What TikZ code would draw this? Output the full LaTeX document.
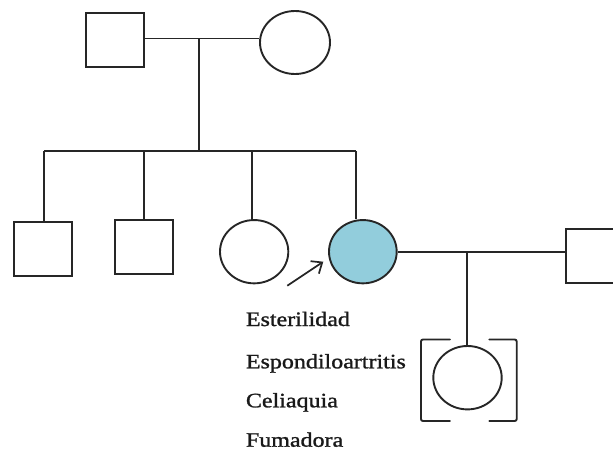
\documentclass[tikz,border=0pt]{standalone}
\usepackage{fontspec}
\usetikzlibrary{shapes.geometric,arrows.meta}
\newfontfamily\lblfont[FakeStretch=1.17,FakeBold=1.2]{Liberation Serif}
\definecolor{probandblue}{HTML}{92CDDC}
\definecolor{pedline}{HTML}{262626}
\begin{document}
\begin{tikzpicture}[x=1pt,y=-1pt,
  line width=1.9pt,
  draw=pedline,
  male/.style={draw=pedline,rectangle,inner sep=0pt,minimum width=#1},
  male/.default=57.7pt,
  female/.style={draw=pedline,ellipse,inner sep=0pt,minimum width=68.3pt,minimum height=63.3pt},
  trait/.style={anchor=base west,inner sep=0pt,font=\lblfont\fontsize{20.5}{24}\selectfont,text=black!90}]
\useasboundingbox (0,0) rectangle (613,453);
\clip (0,0) rectangle (613,453);

% parents
\node[male,minimum height=53.4pt] (father) at (115.2,40) {};
\node[female,minimum width=70pt,minimum height=63pt] (mother) at (295,42.5) {};
\coordinate (mate1) at (199,38.5);
\draw (father.east |- mate1) -- (mother.west |- mate1);
\coordinate (sib) at (199,151);
\draw (mate1) -- (sib);

% siblings
\node[male,minimum height=54pt] (s1) at (42.85,248.7) {};
\node[male,minimum height=53.7pt] (s2) at (143.85,246.85) {};
\node[female] (s3) at (254.15,251.7) {};
\node[female,fill=probandblue,minimum width=67.7pt] (s4) at (362.85,251.7) {};

\coordinate (d1) at (44.3,151);
\coordinate (d2) at (144,151);
\coordinate (d3) at (252.3,151);
\coordinate (d4) at (356,151);
\draw (d1) -- (d4);
\draw (d1) -- (d1 |- s1.north);
\draw (d2) -- (d2 |- s2.north);
\draw (d3) -- (d3 |- s3.north);
\draw (d4) -- (d4 |- s4.north);

% spouse and offspring
\node[male,minimum height=53.4pt,minimum width=57.4pt] (spouse) at (594.7,256) {};
\coordinate (mate2) at (466.7,252);
\draw (s4.east |- mate2) -- (spouse.west |- mate2);
\node[female,minimum width=68.4pt,minimum height=63.4pt] (kid) at (467.5,377.7) {};
\draw (mate2) -- (mate2 |- kid.north);

% brackets round the offspring
\draw[line cap=round,rounded corners=2pt] (450,339.5) -- (421,339.5) -- (421,421) -- (450,421);
\draw[line cap=round,rounded corners=2pt] (489.3,339.5) -- (516.7,339.5) -- (516.7,421) -- (489.3,421);

% proband arrow
\coordinate (pa) at (287.3,285.7);
\coordinate (pb) at (323.3,261.7);
\draw[line width=1.7pt,-{Straight Barb[length=9pt,width=15pt]}] (pa) -- (pb);

% traits
\node[trait] (t1) at (245,326) {Esterilidad};
\node[trait] (t2) at (245,368.3) {Espondiloartritis};
\node[trait] (t3) at (245,407.3) {Celiaquia};
\node[trait] (t4) at (245,446.7) {Fumadora};
\end{tikzpicture}
\end{document}
